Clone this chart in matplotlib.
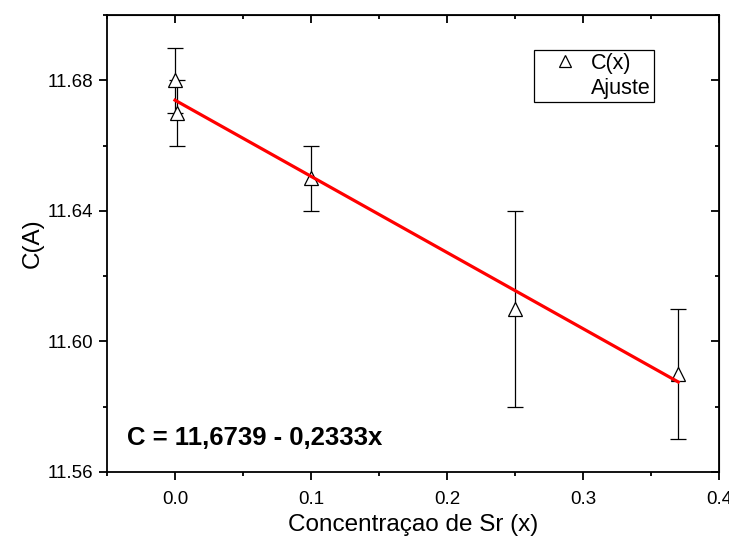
import matplotlib
matplotlib.use("Agg")
import numpy as np
from matplotlib import pyplot as plt
from matplotlib.lines import Line2D
from matplotlib.ticker import MultipleLocator

plt.rcParams['font.family'] = ['Liberation Sans', 'DejaVu Sans']

# data
conc = [0.0, 0.0015, 0.1, 0.25, 0.37]
c_val = [11.68, 11.67, 11.65, 11.61, 11.59]
c_err = [0.01, 0.01, 0.01, 0.03, 0.02]
fit_a = 11.6739
fit_b = -0.2333
fit_x = [0.0, 0.37]

fig = plt.figure(figsize=(7.29, 5.43), dpi=100)
ax = fig.add_axes([0.1468, 0.1308, 0.8395, 0.8416])

ax.errorbar(conc, c_val, yerr=c_err, fmt='none', ecolor='black', elinewidth=0.9,
            capsize=6, capthick=0.9, zorder=2)
ax.plot(conc, c_val, linestyle='none', marker='^', markersize=9.5,
        markerfacecolor='white', markeredgecolor='black', markeredgewidth=0.9, zorder=3)
fx = np.array(fit_x)
ax.plot(fx, fit_a + fit_b * fx, color='red', linewidth=2.3, zorder=4)

ax.text(-0.035, 11.5705, "C = 11,6739 - 0,2333x", fontsize=18.5, fontweight='bold',
        va='center', ha='left')

ax.set_xlim(-0.05, 0.4)
ax.set_ylim(11.56, 11.70)
ax.xaxis.set_major_locator(MultipleLocator(0.1))
ax.xaxis.set_minor_locator(MultipleLocator(0.05))
ax.yaxis.set_major_locator(MultipleLocator(0.04))
ax.yaxis.set_minor_locator(MultipleLocator(0.02))
ax.xaxis.set_major_formatter(plt.FormatStrFormatter('%.1f'))
ax.yaxis.set_major_formatter(plt.FormatStrFormatter('%.2f'))

ax.tick_params(which='both', direction='out', top=False, right=False, labelsize=13.5, width=1.3)
ax.tick_params(which='major', length=6)
ax.tick_params(which='minor', length=3)
ax.tick_params(axis='x', which='major', pad=8)
ax.tick_params(axis='y', which='major', pad=4)
for sp in ax.spines.values():
    sp.set_linewidth(1.3)

# inward ticks on top and right, like Origin
sec_x = ax.secondary_xaxis('top')
sec_x.xaxis.set_major_locator(MultipleLocator(0.1))
sec_x.xaxis.set_minor_locator(MultipleLocator(0.05))
sec_x.tick_params(which='both', direction='in', labeltop=False, width=1.3)
sec_x.tick_params(which='major', length=6)
sec_x.tick_params(which='minor', length=3)
sec_y = ax.secondary_yaxis('right')
sec_y.yaxis.set_major_locator(MultipleLocator(0.04))
sec_y.yaxis.set_minor_locator(MultipleLocator(0.02))
sec_y.tick_params(which='both', direction='in', labelright=False, width=1.3)
sec_y.tick_params(which='major', length=6)
sec_y.tick_params(which='minor', length=3)

ax.set_xlabel("Concentraçao de Sr (x)", fontsize=17.5, labelpad=4)
ax.set_ylabel("C(A)", fontsize=17.5, labelpad=3)

handles = [Line2D([], [], linestyle='none', marker='^', markersize=8,
                  markerfacecolor='white', markeredgecolor='black', markeredgewidth=0.9),
           Line2D([], [], linestyle='none')]
leg = ax.legend(handles, ["C(x)", "Ajuste"], loc='upper left', bbox_to_anchor=(0.698, 0.924),
                fontsize=15.5, fancybox=False, edgecolor='black', framealpha=1,
                handlelength=2.6, handletextpad=-0.1, borderpad=0.15, labelspacing=0.2,
                borderaxespad=0)
leg.get_frame().set_linewidth(0.9)

fig.savefig("out.png", dpi=100)
